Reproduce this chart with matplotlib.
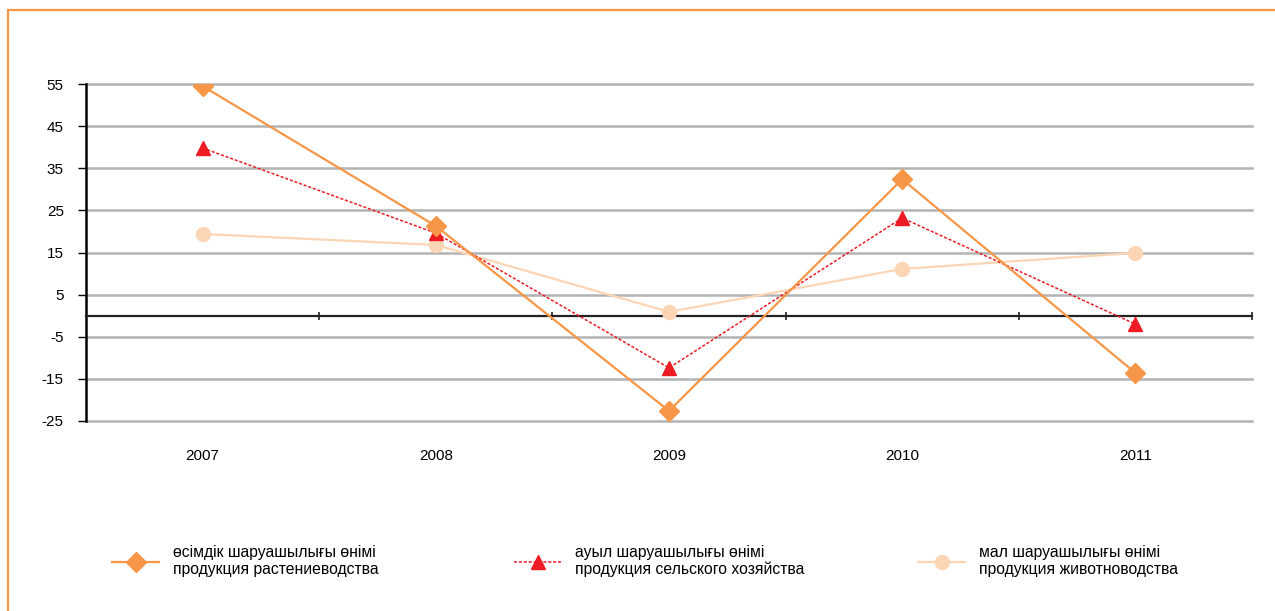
import numpy as np
import matplotlib.pyplot as plt
import matplotlib.patches as patches
from matplotlib.lines import Line2D

plt.rcParams['font.family'] = ['Liberation Sans', 'DejaVu Sans']
plt.rcParams['axes.unicode_minus'] = False

years = ['2007', '2008', '2009', '2010', '2011']
crop = [54.5, 21.3, -22.6, 32.4, -13.6]
agri = [39.8, 19.6, -12.4, 23.2, -2.0]
livestock = [19.4, 16.8, 0.9, 11.1, 14.9]
yticks = [-25, -15, -5, 5, 15, 25, 35, 45, 55]

labels = ['өсімдік шаруашылығы өнімі\nпродукция растениеводства',
          'ауыл шаруашылығы өнімі\nпродукция сельского хозяйства',
          'мал шаруашылығы өнімі\nпродукция животноводства']

c_orange = '#F79646'
c_red = '#ED1C24'
c_peach = '#FCD5B5'

fig = plt.figure(figsize=(12.75, 6.11), dpi=100)
ax = fig.add_axes([86/1275, 1-421/611, (1252-86)/1275, (421-84)/611])

x = np.arange(len(years))
ax.plot(x, livestock, color=c_peach, lw=1.6, marker='o', ms=10, zorder=3)
ax.plot(x, agri, color=c_red, lw=1.1, ls=(0, (2, 1.2)), marker='^', ms=10, zorder=4)
ax.plot(x, crop, color=c_orange, lw=1.6, marker='D', ms=10, zorder=5)

ax.set_xlim(-0.5, 4.5)
ax.set_ylim(-25, 55)
ax.set_yticks(yticks)
ax.tick_params(axis='y', length=6, width=1, labelsize=11, pad=10, colors='black')
ax.yaxis.grid(True, color='#b3b3b3', lw=1.8)
for g in ax.get_ygridlines():
    g.set_clip_on(False)
ax.set_axisbelow(True)

for s in ['top', 'right']:
    ax.spines[s].set_visible(False)
ax.spines['left'].set_linewidth(1.8)
ax.spines['bottom'].set_position(('data', 0))
ax.spines['bottom'].set_linewidth(1.6)
ax.spines['bottom'].set_color('#222222')
ax.set_xticks(np.arange(0.5, 5, 1))
ax.set_xticklabels([])
ax.tick_params(axis='x', direction='inout', length=6, width=1.2, color='#222222')

sec = ax.secondary_xaxis('bottom')
sec.set_xticks(x)
sec.set_xticklabels(years)
sec.tick_params(length=0, pad=20, labelsize=11)
sec.spines['bottom'].set_visible(False)

handles = [
    Line2D([], [], color=c_orange, lw=1.6, marker='D', ms=10),
    Line2D([], [], color=c_red, lw=1.1, ls=(0, (2, 1.2)), marker='^', ms=10),
    Line2D([], [], color=c_peach, lw=1.6, marker='o', ms=10),
]
lx = [112, 514, 918]
for h, lab, px in zip(handles, labels, lx):
    leg = fig.legend([h], [lab], loc='center left', bbox_to_anchor=(px/1275, 1-561/611),
                     frameon=False, fontsize=11.3, handlelength=3.0, handletextpad=0.9,
                     borderpad=0, borderaxespad=0, labelspacing=0)
    for t in leg.get_texts():
        t.set_linespacing(1.15)

fig.add_artist(patches.Rectangle((8/1275, -0.1), 1.2, 1 - 10/611 + 0.1,
                                 transform=fig.transFigure, fill=False,
                                 edgecolor=c_orange, lw=1.6))

fig.savefig('out.png', dpi=100)
